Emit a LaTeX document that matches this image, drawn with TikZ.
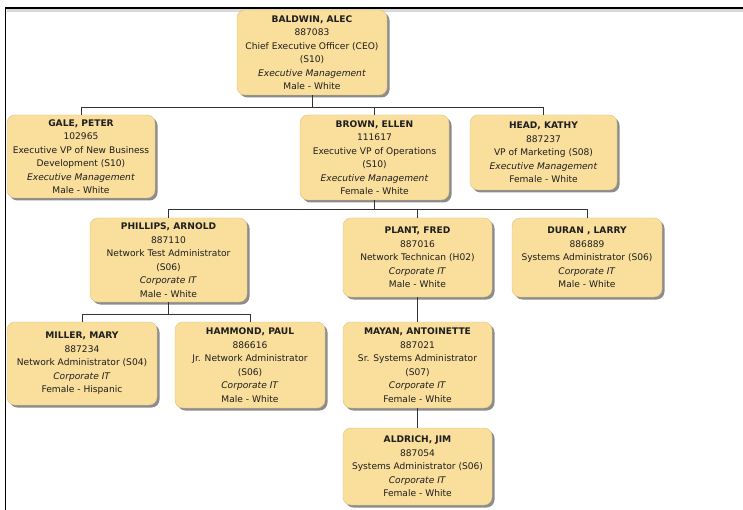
\documentclass[tikz,border=0pt]{standalone}
\usepackage{fontspec}
\setmainfont{DejaVu Sans}
\usetikzlibrary{shadows}
\definecolor{boxfill}{HTML}{F9DE9C}
\definecolor{boxedge}{HTML}{E2C27C}
\definecolor{txt}{HTML}{1E1E1E}
\tikzset{
  person/.style={draw=boxedge, fill=boxfill, rounded corners=8pt, align=center,
    inner sep=2pt, text=txt, font=\fontsize{9.1}{13.5}\selectfont,
    drop shadow={shadow xshift=2.5pt, shadow yshift=-2.5pt, opacity=0.6, fill=black!75}},
  conn/.style={draw=black!80, line width=0.9pt}
}
\newcommand{\nm}[1]{\textbf{#1}}
\begin{document}
\begin{tikzpicture}[x=1pt,y=-1pt]
\useasboundingbox (0,0) rectangle (743,510);
\fill[white] (0,0) rectangle (743,510);
\draw[black!15, line width=3pt] (7,10.5) -- (743,10.5);
\draw[black, line width=1.6pt] (5.5,510) -- (5.5,8) -- (743,8);

\node[person, minimum width=150pt, minimum height=85pt] (baldwin) at (312,52.5)
  {\nm{BALDWIN, ALEC}\\887083\\Chief Executive Officer (CEO)\\(S10)\\\textit{Executive Management}\\Male - White};
\node[person, minimum width=148pt, minimum height=83pt] (gale) at (81,156.5)
  {\nm{GALE, PETER}\\102965\\Executive VP of New Business\\Development (S10)\\\textit{Executive Management}\\Male - White};
\node[person, minimum width=149pt, minimum height=85pt] (brown) at (374.5,157.5)
  {\nm{BROWN, ELLEN}\\111617\\Executive VP of Operations\\(S10)\\\textit{Executive Management}\\Female - White};
\node[person, minimum width=147pt, minimum height=75pt] (head) at (543.5,152.5)
  {\nm{HEAD, KATHY}\\887237\\VP of Marketing (S08)\\\textit{Executive Management}\\Female - White};
\node[person, minimum width=157pt, minimum height=84pt] (phillips) at (168.5,260)
  {\nm{PHILLIPS, ARNOLD}\\887110\\Network Test Administrator\\(S06)\\\textit{Corporate IT}\\Male - White};
\node[person, minimum width=149pt, minimum height=79pt] (plant) at (417.5,257.5)
  {\nm{PLANT, FRED}\\887016\\Network Technican (H02)\\\textit{Corporate IT}\\Male - White};
\node[person, minimum width=150pt, minimum height=79pt] (duran) at (587,257.5)
  {\nm{DURAN , LARRY}\\886889\\Systems Administrator (S06)\\\textit{Corporate IT}\\Male - White};
\node[person, minimum width=150pt, minimum height=83pt] (miller) at (82,363.5)
  {\nm{MILLER, MARY}\\887234\\Network Administrator (S04)\\\textit{Corporate IT}\\Female - Hispanic};
\node[person, minimum width=150pt, minimum height=86pt] (hammond) at (250,365)
  {\nm{HAMMOND, PAUL}\\886616\\Jr. Network Administrator\\(S06)\\\textit{Corporate IT}\\Male - White};
\node[person, minimum width=149pt, minimum height=86pt] (mayan) at (417.5,365)
  {\nm{MAYAN, ANTOINETTE}\\887021\\Sr. Systems Administrator\\(S07)\\\textit{Corporate IT}\\Female - White};
\node[person, minimum width=149pt, minimum height=77pt] (aldrich) at (417.5,466.5)
  {\nm{ALDRICH, JIM}\\887054\\Systems Administrator (S06)\\\textit{Corporate IT}\\Female - White};

\draw[conn] (baldwin.south) -- ++(0,13);
\draw[conn] (gale.north) -- ++(0,-7) -| (head.north);
\draw[conn] (brown.north) -- ++(0,-7);
\draw[conn] (brown.south) -- ++(0,10);
\draw[conn] (phillips.north) -- ++(0,-8) -| (duran.north);
\draw[conn] (plant.north) -- ++(0,-8);
\draw[conn] (phillips.south) -- ++(0,13);
\draw[conn] (miller.north) -- ++(0,-7) -| (hammond.north);
\draw[conn] (plant.south) -- (mayan.north);
\draw[conn] (mayan.south) -- (aldrich.north);
\end{tikzpicture}
\end{document}
